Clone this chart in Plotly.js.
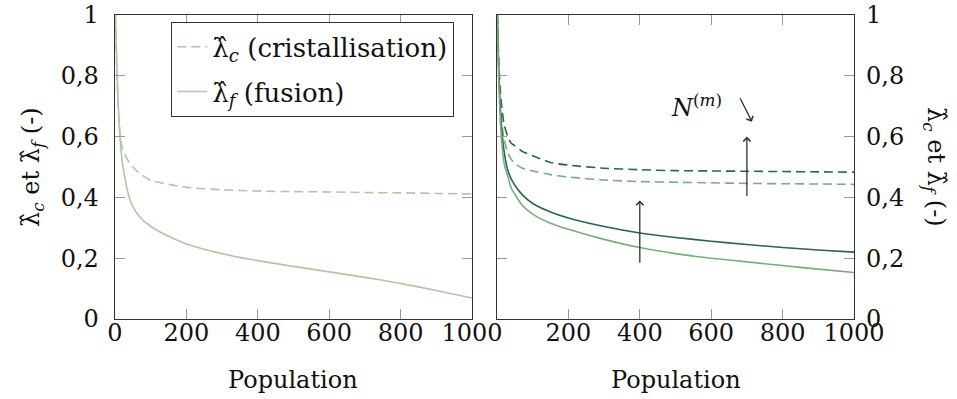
<!DOCTYPE html>
<html>
<head>
<meta charset="utf-8">
<script src="https://cdn.plot.ly/plotly-3.0.1.min.js"></script>
<style>
html,body{margin:0;padding:0;background:#fff;}
#chart{width:957px;height:399px;}
</style>
</head>
<body>
<div id="chart"></div>
<script>
// Population values (shared x)
const population = [1, 3, 6, 10, 15, 20, 30, 40, 50, 70, 100, 150, 200, 300, 400, 500, 600, 700, 800, 900, 1000];

// Left panel
const leftCrist = [1.0, 0.9, 0.78, 0.68, 0.60, 0.565, 0.535, 0.515, 0.50, 0.478, 0.456, 0.443, 0.433, 0.425, 0.421, 0.419, 0.418, 0.416, 0.415, 0.413, 0.411];
const leftFusion = [1.0, 0.93, 0.80, 0.68, 0.58, 0.52, 0.45, 0.40, 0.37, 0.335, 0.305, 0.272, 0.247, 0.215, 0.192, 0.173, 0.155, 0.137, 0.117, 0.094, 0.069];

// Right panel
const rightCristDark = [1.0, 0.92, 0.82, 0.74, 0.68, 0.64, 0.60, 0.578, 0.57, 0.552, 0.537, 0.515, 0.506, 0.496, 0.491, 0.488, 0.487, 0.486, 0.485, 0.484, 0.483];
const rightCristLight = [1.0, 0.90, 0.79, 0.70, 0.63, 0.59, 0.548, 0.525, 0.512, 0.497, 0.487, 0.475, 0.467, 0.457, 0.452, 0.45, 0.448, 0.446, 0.445, 0.444, 0.443];
const rightFusionDark = [1.0, 0.90, 0.78, 0.68, 0.60, 0.55, 0.49, 0.46, 0.44, 0.41, 0.38, 0.352, 0.332, 0.304, 0.283, 0.268, 0.256, 0.245, 0.235, 0.227, 0.22];
const rightFusionLight = [1.0, 0.88, 0.75, 0.64, 0.56, 0.51, 0.47, 0.43, 0.41, 0.375, 0.345, 0.315, 0.295, 0.262, 0.235, 0.215, 0.2, 0.188, 0.176, 0.164, 0.153];

// Ticks
const xTickVals = [0, 200, 400, 600, 800, 1000];
const xTickTextLeft = ['0', '200', '400', '600', '800', '1000'];
const xTickTextRight = ['', '200', '400', '600', '800', '1000'];
const yTickVals = [0, 0.2, 0.4, 0.6, 0.8, 1];
const yTickText = ['0', '0,2', '0,4', '0,6', '0,8', '1'];

// Arrows (right panel, data coords)
const arrowX = [400, 700];
const arrowFrom = [0.18, 0.40];
const arrowTo = [0.39, 0.60];
const diagFrom = [679, 0.731];
const diagTo = [714, 0.649];
const labelPos = [560, 0.70];

const cLeft = '#aec7a5';
const cLight = '#79ad7d';
const cDark = '#2b6453';
const FONT = 'DejaVu Serif';
const FS = 24;
const TXT = '#111';

function ln(color, dash) {
  const o = {color: color, width: 1.6, shape: 'spline', smoothing: 0.6};
  if (dash) o.dash = '9px,5px';
  return o;
}

const traces = [
  {x: population, y: leftCrist, xaxis: 'x', yaxis: 'y', mode: 'lines', legendgroup: 'c',
   name: 'λ̂<sub><i>c</i></sub> (cristallisation)', line: ln(cLeft, true)},
  {x: population, y: leftFusion, xaxis: 'x', yaxis: 'y', mode: 'lines', legendgroup: 'f',
   name: 'λ̂<sub><i>f</i></sub> (fusion)', line: ln(cLeft, false)},
  {x: population, y: rightCristDark, xaxis: 'x2', yaxis: 'y2', mode: 'lines', showlegend: false, line: ln(cDark, true)},
  {x: population, y: rightCristLight, xaxis: 'x2', yaxis: 'y2', mode: 'lines', showlegend: false, line: ln(cLight, true)},
  {x: population, y: rightFusionDark, xaxis: 'x2', yaxis: 'y2', mode: 'lines', showlegend: false, line: ln(cDark, false)},
  {x: population, y: rightFusionLight, xaxis: 'x2', yaxis: 'y2', mode: 'lines', showlegend: false, line: ln(cLight, false)}
];

const axisCommon = {
  ticks: 'inside', ticklen: 10, tickcolor: '#9a9a9a', tickwidth: 1,
  mirror: 'allticks', showline: true, linecolor: '#333', linewidth: 1.3,
  showgrid: false, zeroline: false, tickfont: {family: FONT, size: FS, color: TXT},
  ticklabeloverflow: 'allow', fixedrange: true
};

const annotations = [];
for (let i = 0; i < arrowX.length; i++) {
  annotations.push({xref: 'x2', yref: 'y2', axref: 'x2', ayref: 'y2',
    x: arrowX[i], y: arrowTo[i], ax: arrowX[i], ay: arrowFrom[i], text: '',
    showarrow: true, arrowhead: 4, arrowsize: 1.1, arrowwidth: 1.3, arrowcolor: '#333'});
}
annotations.push({xref: 'x2', yref: 'y2', axref: 'x2', ayref: 'y2',
  x: diagTo[0], y: diagTo[1], ax: diagFrom[0], ay: diagFrom[1], text: '',
  showarrow: true, arrowhead: 4, arrowsize: 1.1, arrowwidth: 1.3, arrowcolor: '#333'});
annotations.push({xref: 'x2', yref: 'y2', x: labelPos[0], y: labelPos[1], showarrow: false,
  text: '<i>N</i><sup>(<i>m</i>)</sup>', font: {family: FONT, size: FS, color: TXT}});
annotations.push({xref: 'paper', yref: 'paper', x: 293 / 957, y: -0.2, showarrow: false,
  text: 'Population', font: {family: FONT, size: FS, color: TXT}, xanchor: 'center', yanchor: 'middle'});
annotations.push({xref: 'paper', yref: 'paper', x: 675.5 / 957, y: -0.2, showarrow: false,
  text: 'Population', font: {family: FONT, size: FS, color: TXT}, xanchor: 'center', yanchor: 'middle'});
annotations.push({xref: 'paper', yref: 'paper', x: 32 / 957, y: 0.5, showarrow: false, textangle: -90,
  text: 'λ̂<sub><i>c</i></sub> et λ̂<sub><i>f</i></sub> (-)', font: {family: FONT, size: FS, color: TXT}, xanchor: 'center', yanchor: 'middle'});
annotations.push({xref: 'paper', yref: 'paper', x: 935 / 957, y: 0.5, showarrow: false, textangle: 90,
  text: 'λ̂<sub><i>c</i></sub> et λ̂<sub><i>f</i></sub> (-)', font: {family: FONT, size: FS, color: TXT}, xanchor: 'center', yanchor: 'middle'});

const layout = {
  width: 957, height: 399,
  margin: {l: 0, r: 0, t: 15, b: 80},
  paper_bgcolor: '#fff', plot_bgcolor: '#fff',
  font: {family: FONT, size: FS, color: TXT},
  showlegend: true,
  legend: {x: 312.5 / 957, xanchor: 'center', y: 0.977, yanchor: 'top',
    bgcolor: '#fff', bordercolor: '#333', borderwidth: 1.3,
    font: {family: FONT, size: 26, color: TXT}, tracegroupgap: 8, traceorder: 'grouped'},
  xaxis: Object.assign({}, axisCommon, {domain: [115 / 957, 472 / 957], range: [0, 1000], anchor: 'y',
    tickvals: xTickVals, ticktext: xTickTextLeft, ticklabelstandoff: -8}),
  yaxis: Object.assign({}, axisCommon, {domain: [0, 1], range: [0, 1], anchor: 'x',
    tickvals: yTickVals, ticktext: yTickText, ticklabelstandoff: 10}),
  xaxis2: Object.assign({}, axisCommon, {domain: [497 / 957, 854 / 957], range: [0, 1000], anchor: 'y2',
    tickvals: xTickVals, ticktext: xTickTextRight, ticklabelstandoff: -8}),
  yaxis2: Object.assign({}, axisCommon, {domain: [0, 1], range: [0, 1], anchor: 'x2', side: 'right',
    tickvals: yTickVals, ticktext: yTickText, ticklabelstandoff: 6}),
  annotations: annotations
};

Plotly.newPlot('chart', traces, layout, {displayModeBar: false, staticPlot: true});
</script>
</body>
</html>
